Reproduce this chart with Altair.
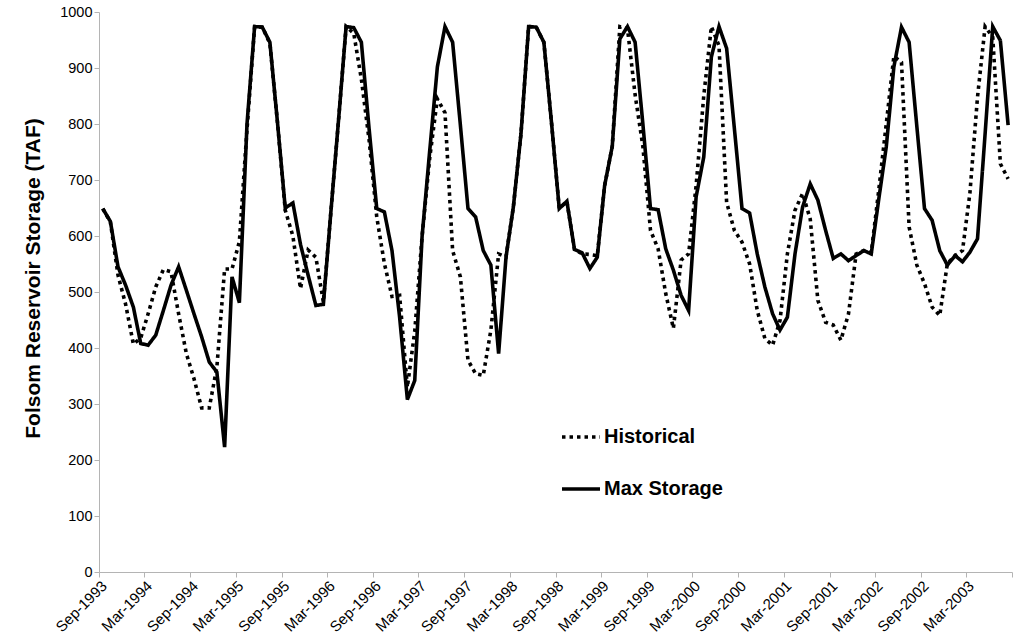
import altair as alt
import pandas as pd

# Monthly data, Sep-1993 .. Aug-2003 (120 months)
months = pd.date_range("1993-09-01", periods=120, freq="MS")

historical = [
    649, 625, 530, 478, 407, 418, 461, 509, 540, 536, 461, 390,
    345, 293, 293, 366, 541, 541, 590, 790, 974, 973, 944, 800,
    646, 600, 506, 575, 562, 482, 643, 806, 974, 962, 880, 771,
    634, 551, 492, 494, 330, 430, 600, 740, 845, 820, 574, 527,
    378, 354, 351, 432, 568, 563, 652, 783, 974, 973, 946, 800,
    649, 662, 576, 568, 567, 565, 690, 760, 974, 970, 852, 760,
    610, 577, 497, 435, 557, 568, 690, 850, 974, 940, 660, 610,
    589, 550, 467, 417, 405, 449, 568, 646, 676, 630, 485, 446,
    441, 414, 461, 568, 574, 570, 680, 800, 921, 910, 616, 548,
    515, 473, 458, 551, 565, 574, 676, 848, 974, 955, 729, 702,
]

max_storage = [
    649, 626, 545, 512, 473, 408, 405, 423, 467, 512, 545, 503,
    461, 420, 375, 357, 223, 527, 481, 800, 974, 973, 946, 800,
    650, 659, 585, 530, 476, 478, 643, 806, 974, 972, 946, 791,
    649, 643, 574, 455, 308, 342, 600, 753, 902, 974, 946, 798,
    649, 634, 574, 548, 390, 562, 652, 783, 974, 973, 946, 800,
    649, 662, 576, 570, 542, 562, 690, 760, 952, 974, 946, 800,
    649, 647, 577, 539, 494, 467, 670, 741, 920, 974, 935, 792,
    649, 641, 568, 509, 461, 432, 455, 568, 652, 693, 664, 610,
    560, 568, 556, 565, 574, 568, 664, 759, 902, 973, 946, 795,
    649, 628, 574, 548, 565, 554, 571, 595, 783, 974, 949, 798,
]

series_names = ["Historical", "Max Storage"]
y_ticks = list(range(0, 1001, 100))
x_tick_dates = pd.date_range("1993-09-01", "2003-09-01", freq="6MS")

df = pd.concat([
    pd.DataFrame({"date": months, "value": historical, "series": series_names[0]}),
    pd.DataFrame({"date": months, "value": max_storage, "series": series_names[1]}),
])

tick_values = [alt.DateTime(year=d.year, month=d.month, date=1) for d in x_tick_dates]

FONT = "Liberation Sans"

chart = alt.Chart(df).mark_line(color="black", strokeWidth=3.6).encode(
    x=alt.X(
        "date:T",
        timeUnit="yearmonth",
        bandPosition=0.5,
        title=None,
        scale=alt.Scale(domain=[alt.DateTime(year=1993, month=9, date=1),
                                alt.DateTime(year=2003, month=9, date=1)]),
        axis=alt.Axis(
            values=tick_values,
            format="%b-%Y",
            labelExpr="year(datum.value) == 2003 && month(datum.value) == 8 ? '' : datum.label",
            labelAngle=-45,
            labelAlign="right",
            labelBaseline="top",
            labelPadding=1,
            labelFontSize=15,
            labelOverlap=False,
            labelFlush=False,
            tickSize=5,
            grid=False,
        ),
    ),
    y=alt.Y(
        "value:Q",
        scale=alt.Scale(domain=[0, 1000]),
        axis=alt.Axis(
            values=y_ticks,
            format="d",
            title="Folsom Reservoir Storage (TAF)",
            titleFontSize=21,
            titleFontWeight="bold",
            titlePadding=16,
            titleY=266,
            labelFontSize=14.5,
            labelPadding=2,
            tickSize=5,
            grid=False,
        ),
    ),
    strokeDash=alt.StrokeDash(
        "series:N",
        scale=alt.Scale(domain=series_names, range=[[3.5, 4], [1, 0]]),
        legend=alt.Legend(
            title=None,
            orient="none",
            legendX=461,
            legendY=404,
            symbolType="stroke",
            symbolSize=1444,
            symbolStrokeWidth=3.6,
            symbolStrokeColor="black",
            labelFont=FONT,
            labelFontSize=20,
            labelFontWeight="bold",
            labelColor="black",
            labelOffset=2,
            rowPadding=21,
            padding=0,
        ),
    ),
).properties(
    width=913,
    height=560,
    autosize=alt.AutoSizeParams(type="none"),
    padding={"left": 99, "top": 12, "right": 11, "bottom": 69},
).configure_axis(
    labelFont=FONT,
    titleFont=FONT,
    labelColor="black",
    titleColor="black",
    domainColor="#b4b4b4",
    tickColor="#b4b4b4",
    domainWidth=1,
    tickWidth=1,
).configure_view(
    stroke=None
)

chart.save("out.html", embed_options={"renderer": "svg", "actions": False})
